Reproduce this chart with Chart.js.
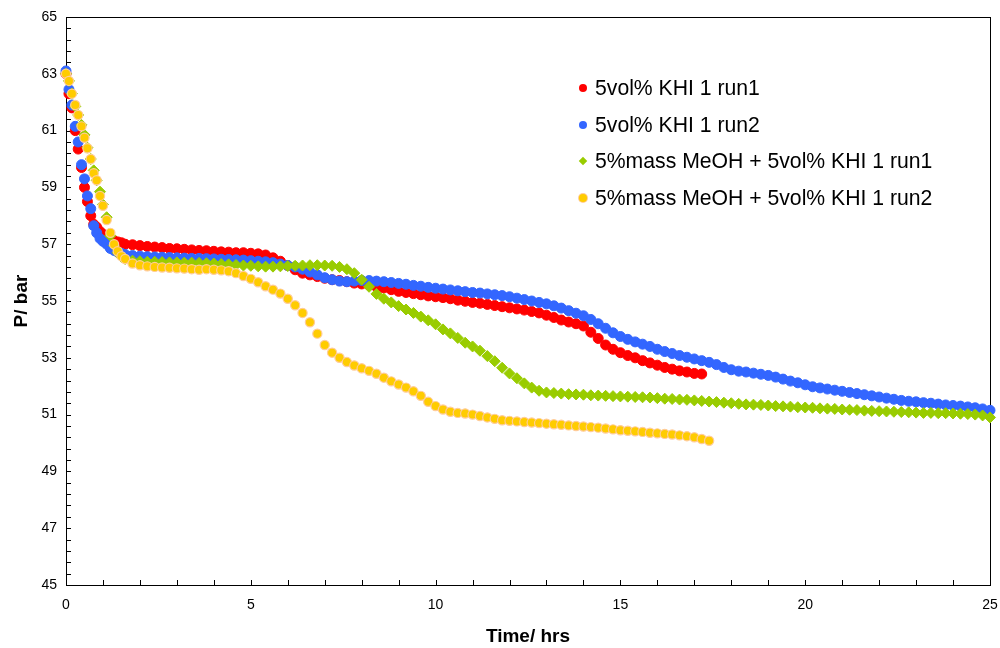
<!DOCTYPE html>
<html>
<head>
<meta charset="utf-8">
<script src="https://cdn.jsdelivr.net/npm/chart.js@4"></script>
<style>
  html, body { margin: 0; padding: 0; background: #fff; }
  #wrap { position: relative; width: 1000px; height: 648px; }
  #legend { position: absolute; left: 576px; top: 75px; font-family: "Liberation Sans", Arial, sans-serif; font-size: 21.2px; color: #000; }
  .item { position: relative; height: 36.7px; line-height: 26px; padding-left: 19px; white-space: nowrap; }
  .mk { position: absolute; left: 3px; top: 9px; width: 8px; height: 8px; border-radius: 50%; }
  .dm { position: absolute; left: 4px; top: 10px; width: 6px; height: 6px; transform: rotate(45deg); }
</style>
</head>
<body>
<div id="wrap">
  <canvas id="c" width="1000" height="648"></canvas>
  <div id="legend"></div>
</div>
<script>
// Shared time axis (hours)
const TIME = [0,0.08,0.16,0.25,0.33,0.42,0.5,0.58,0.67,0.75,0.83,0.92,1.0,1.1,1.2,1.3,1.4,1.5,1.6,1.8,2.0,
  2.2,2.4,2.6,2.8,3,3.2,3.4,3.6,3.8,4,4.2,4.4,4.6,4.8,5,5.2,5.4,5.6,5.8,6,6.2,6.4,6.6,6.8,7,7.2,7.4,7.6,7.8,8,
  8.2,8.4,8.6,8.8,9,9.2,9.4,9.6,9.8,10,10.2,10.4,10.6,10.8,11,11.2,11.4,11.6,11.8,12,12.2,12.4,12.6,12.8,13,
  13.2,13.4,13.6,13.8,14,14.2,14.4,14.6,14.8,15,15.2,15.4,15.6,15.8,16,16.2,16.4,16.6,16.8,17,17.2,17.4,17.6,17.8,18,
  18.2,18.4,18.6,18.8,19,19.2,19.4,19.6,19.8,20,20.2,20.4,20.6,20.8,21,21.2,21.4,21.6,21.8,22,
  22.2,22.4,22.6,22.8,23,23.2,23.4,23.6,23.8,24,24.2,24.4,24.6,24.8,25];

const SERIES_NAMES = ["5vol% KHI 1 run1", "5vol% KHI 1 run2", "5%mass MeOH + 5vol% KHI 1 run1", "5%mass MeOH + 5vol% KHI 1 run2"];

const KHI_RUN1 = [63.0,62.3,61.8,61.0,60.35,59.7,59.0,58.5,58.0,57.7,57.6,57.45,57.35,57.25,57.18,57.12,57.08,57.05,57.0,56.98,56.95,
  56.92,56.9,56.88,56.85,56.84, 56.82,56.8,56.78,56.77,56.75, 56.73,56.72,56.7,56.7,56.68, 56.66,56.62,56.52,56.4,56.25,
  56.1,55.98,55.92,55.86,55.8, 55.75,55.72,55.68,55.63,55.6, 55.56,55.5,55.46,55.4,55.34, 55.3,55.26,55.22,55.18,55.15,
  55.12,55.08,55.03,54.99,54.95, 54.92,54.88,54.84,54.8,54.76, 54.72,54.68,54.63,54.58,54.5, 54.42,54.33,54.26,54.2,54.12,
  53.9,53.68,53.45,53.3,53.18, 53.08,53.0,52.9,52.82,52.74, 52.66,52.6,52.54,52.5,52.45, 52.43];

const KHI_RUN2 = [63.1,62.45,61.9,61.15,60.6,59.8,59.3,58.7,58.25,57.65,57.4,57.2,57.1,57.0,56.85,56.78,56.72,56.68,56.64,56.6,56.58,
  56.56,56.55,56.54,56.53,56.52, 56.51,56.5,56.5,56.49,56.48, 56.47,56.46,56.45,56.44,56.42, 56.4,56.38,56.35,56.3,56.25,
  56.2,56.12,56.02,55.92,55.82, 55.75,55.7,55.68,55.7,55.72, 55.72,55.7,55.68,55.65,55.62, 55.59,55.55,55.52,55.48,55.45,
  55.42,55.39,55.36,55.33,55.3, 55.28,55.25,55.22,55.19,55.15, 55.1,55.05,55.0,54.95,54.9, 54.83,54.75,54.66,54.57,54.48,
  54.35,54.2,54.04,53.88,53.75, 53.65,53.56,53.48,53.4,53.3, 53.22,53.15,53.08,53.02,52.96, 52.9,52.84,52.76,52.66,52.58,
  52.53,52.5,52.46,52.42,52.38, 52.32,52.25,52.18,52.12,52.05, 51.98,51.94,51.9,51.86,51.82, 51.78,51.74,51.7,51.66,51.62,
  51.58,51.54,51.5,51.47,51.45, 51.42,51.4,51.37,51.34,51.32, 51.3,51.27,51.24,51.2,51.15];

const MEOH_RUN1 = [63.0,62.75,62.3,61.85,61.55,61.2,60.85,60.4,60.0,59.6,59.25,58.85,58.4,57.95,57.3,56.95,56.7,56.55,56.48,56.42,56.4,
  56.38,56.38,56.37,56.36,56.36, 56.35,56.35,56.34,56.33,56.32, 56.3,56.29,56.27,56.25,56.24, 56.22,56.21,56.21,56.22,56.23,
  56.24,56.25,56.26,56.26,56.25, 56.24,56.2,56.12,55.98,55.75, 55.5,55.25,55.08,54.95,54.82, 54.7,54.58,54.45,54.32,54.18,
  54.0,53.86,53.7,53.53,53.4, 53.25,53.06,52.88,52.65,52.45, 52.28,52.1,51.95,51.84,51.78, 51.76,51.74,51.72,51.71,51.7,
  51.68,51.67,51.66,51.65,51.64, 51.63,51.62,51.61,51.6,51.58, 51.56,51.55,51.53,51.52,51.5, 51.48,51.46,51.44,51.42,51.4,
  51.38,51.36,51.35,51.34,51.32, 51.3,51.29,51.28,51.26,51.25, 51.24,51.22,51.21,51.2,51.18, 51.17,51.16,51.14,51.13,51.12,
  51.11,51.1,51.09,51.08,51.07, 51.06,51.06,51.05,51.05,51.04, 51.03,51.02,51.0,50.97,50.9];

const MEOH_RUN2 = [63.0,62.75,62.3,61.9,61.55,61.15,60.75,60.38,60.0,59.5,59.25,58.7,58.35,57.85,57.4,57.0,56.75,56.58,56.48,56.32,56.26,
  56.22,56.2,56.18,56.17,56.15, 56.14,56.12,56.1,56.12,56.1, 56.08,56.05,55.98,55.88,55.78, 55.66,55.52,55.4,55.26,55.08,
  54.85,54.58,54.25,53.85,53.45, 53.18,53.0,52.85,52.73,52.63, 52.54,52.44,52.3,52.17,52.06, 51.95,51.82,51.66,51.45,51.3,
  51.18,51.1,51.06,51.04,51.0, 50.95,50.9,50.85,50.8,50.78, 50.76,50.74,50.72,50.7,50.68, 50.66,50.64,50.62,50.6,50.58,
  50.56,50.54,50.51,50.48,50.45, 50.43,50.41,50.39,50.36,50.34, 50.32,50.3,50.27,50.24,50.2, 50.14,50.08];

const X_MIN = 0, X_MAX = 25, X_STEP = 1, X_LABEL_EVERY = 5;
const Y_MIN = 45, Y_MAX = 65, Y_STEP = 0.4, Y_LABEL_EVERY = 2;

const STYLES = [
  { bg: '#FF0000', border: '#FF0000', shape: 'circle', r: 5, bw: 1, order: 4 },
  { bg: '#3366FF', border: '#3366FF', shape: 'circle', r: 5, bw: 1, order: 3 },
  { bg: '#99CC00', border: '#99CC00', shape: 'rectRot', r: 5.5, bw: 1, order: 2 },
  { bg: '#FFCC00', border: '#FFCC99', shape: 'circle', r: 4.6, bw: 1.2, order: 1 }
];
const VALUES = [KHI_RUN1, KHI_RUN2, MEOH_RUN1, MEOH_RUN2];

const datasets = VALUES.map((vals, k) => ({
  label: SERIES_NAMES[k],
  data: vals.map((v, i) => ({ x: TIME[i], y: v })),
  backgroundColor: STYLES[k].bg,
  borderColor: STYLES[k].border,
  pointStyle: STYLES[k].shape,
  pointRadius: STYLES[k].r,
  pointBorderWidth: STYLES[k].bw,
  showLine: false,
  order: STYLES[k].order,
  clip: false
}));

// HTML legend
const leg = document.getElementById('legend');
SERIES_NAMES.forEach((n, k) => {
  const d = document.createElement('div'); d.className = 'item';
  const m = document.createElement('span');
  m.className = STYLES[k].shape === 'rectRot' ? 'dm' : 'mk';
  m.style.background = STYLES[k].bg;
  if (k === 3) m.style.boxShadow = '0 0 0 1px #FFCC99';
  d.appendChild(m);
  d.appendChild(document.createTextNode(n));
  leg.appendChild(d);
});

const framePlugin = {
  id: 'frame',
  beforeDatasetsDraw(chart) {
    const { ctx, chartArea: a, scales } = chart;
    ctx.save();
    ctx.strokeStyle = '#000';
    ctx.lineWidth = 1;
    ctx.beginPath();
    scales.x.ticks.forEach(t => {
      const px = Math.round(scales.x.getPixelForValue(t.value)) + 0.5;
      ctx.moveTo(px, a.bottom); ctx.lineTo(px, a.bottom - 5);
    });
    scales.y.ticks.forEach(t => {
      const py = Math.round(scales.y.getPixelForValue(t.value)) + 0.5;
      ctx.moveTo(a.left, py); ctx.lineTo(a.left + 5, py);
    });
    ctx.stroke();
    ctx.strokeRect(Math.round(a.left) + 0.5, Math.round(a.top) + 0.5, Math.round(a.right - a.left), Math.round(a.bottom - a.top));
    ctx.restore();
  }
};

const FONT = "'Liberation Sans', Arial, sans-serif";

new Chart(document.getElementById('c'), {
  type: 'scatter',
  data: { datasets },
  plugins: [framePlugin],
  options: {
    responsive: false,
    animation: false,
    devicePixelRatio: 1,
    layout: { padding: { top: 17, right: 0, left: 0, bottom: 0 } },
    plugins: { legend: { display: false }, tooltip: { enabled: false } },
    scales: {
      x: {
        type: 'linear', min: X_MIN, max: X_MAX,
        grid: { display: false, drawTicks: false },
        border: { display: false },
        ticks: {
          stepSize: X_STEP, autoSkip: false, maxRotation: 0, padding: 12,
          color: '#000', font: { family: FONT, size: 14 },
          callback: v => (Math.abs(v % X_LABEL_EVERY) < 1e-6 ? String(Math.round(v)) : '')
        },
        title: { display: true, text: 'Time/ hrs', color: '#000', font: { family: FONT, size: 19, weight: 'bold' }, padding: { top: 12, bottom: 0 } },
        afterFit: s => { s.height = 63; s.paddingRight = 10; s.paddingLeft = 0; }
      },
      y: {
        type: 'linear', min: Y_MIN, max: Y_MAX,
        grid: { display: false, drawTicks: false },
        border: { display: false },
        ticks: {
          stepSize: Y_STEP, autoSkip: false, padding: 9,
          color: '#000', font: { family: FONT, size: 14 },
          callback: v => {
            const q = (v - Y_MIN) / Y_LABEL_EVERY;
            return Math.abs(q - Math.round(q)) < 1e-3 ? String(Math.round(v)) : '';
          }
        },
        title: { display: true, text: 'P/ bar', color: '#000', font: { family: FONT, size: 19, weight: 'bold' }, padding: { top: 10, bottom: 4 } },
        afterFit: s => { s.width = 66; s.paddingTop = 0; s.paddingBottom = 0; }
      }
    }
  }
});
</script>
</body>
</html>
